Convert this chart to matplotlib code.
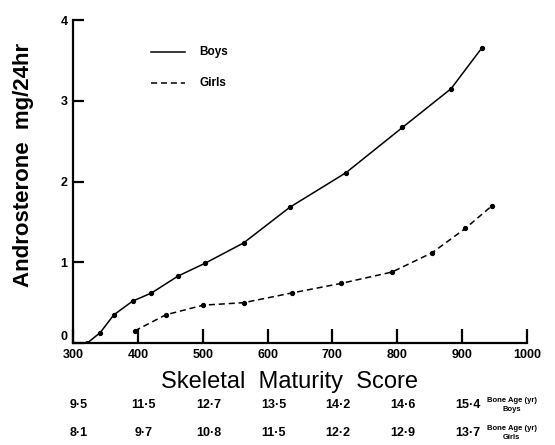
import matplotlib.pyplot as plt

plt.rcParams['font.family'] = ['Liberation Sans', 'DejaVu Sans']

# data
boys_score = [322, 342, 363, 392, 421, 462, 504, 563, 634, 721, 808, 883, 930]
boys_andro = [0.0, 0.13, 0.35, 0.52, 0.62, 0.83, 0.99, 1.24, 1.68, 2.11, 2.67, 3.15, 3.65]

girls_score = [395, 443, 501, 563, 637, 714, 792, 854, 905, 946]
girls_andro = [0.15, 0.35, 0.47, 0.50, 0.62, 0.74, 0.88, 1.12, 1.42, 1.70]

x_ticks = [300, 400, 500, 600, 700, 800, 900, 1000]
y_ticks = [0, 1, 2, 3, 4]

age_pos = [300, 400, 500, 600, 700, 800, 900]
boys_age = ['9·5', '11·5', '12·7', '13·5', '14·2', '14·6', '15·4']
girls_age = ['8·1', '9·7', '10·8', '11·5', '12·2', '12·9', '13·7']


fig = plt.figure(figsize=(5.55, 4.45), dpi=100)
ax = fig.add_axes([0.1315, 0.229, 0.818, 0.726])

ax.plot(boys_score, boys_andro, color='black', lw=1.1, marker='o', ms=2.8)
ax.plot(girls_score, girls_andro, color='black', lw=1.1, ls=(0, (4, 2.5)),
        marker='o', ms=2.8)

ax.set_xlim(300, 1000)
ax.set_ylim(0, 4)

## axis frame: only left and bottom, ticks pointing inwards
for s in ['top', 'right']:
  ax.spines[s].set_visible(False)
for s in ['left', 'bottom']:
  ax.spines[s].set_linewidth(1.6)

ax.set_xticks(x_ticks)
ax.set_yticks(y_ticks)
ax.tick_params(axis='x', direction='in', length=10, width=1.6, pad=4)
ax.tick_params(axis='y', direction='in', length=8, width=1.6, pad=4)
for lab in ax.get_xticklabels() + ax.get_yticklabels():
  lab.set_fontweight('bold')
  lab.set_fontsize(9)
# lift the "0" a touch so it clears the "300" below it
ax.get_yticklabels()[0].set_verticalalignment('bottom')

ax.set_ylabel('Androsterone  mg/24hr', fontsize=16, fontweight='bold')
ax.yaxis.set_label_coords(-0.085, 0.55)
ax.set_xlabel('Skeletal  Maturity  Score', fontsize=17)
ax.xaxis.set_label_coords(0.477, -0.087)

## legend drawn by hand
ax.plot([421, 472], [3.6, 3.6], color='black', lw=1.1)
ax.text(495, 3.6, 'Boys', fontsize=8.5, fontweight='bold', va='center')
ax.plot([421, 472], [3.22, 3.22], color='black', lw=1.1, ls=(0, (4, 2.5)))
ax.text(495, 3.22, 'Girls', fontsize=8.5, fontweight='bold', va='center')

## bone age rows beneath the axis
trans = ax.get_xaxis_transform()
for x, b, g in zip(age_pos, boys_age, girls_age):
  ax.text(x + 9, -0.192, b, transform=trans, ha='center', va='center',
          fontsize=9, fontweight='bold')
  ax.text(x + 9, -0.279, g, transform=trans, ha='center', va='center',
          fontsize=9, fontweight='bold')
ax.text(938, -0.192, 'Bone Age (yr)\nBoys', transform=trans, ha='left',
        va='center', fontsize=5.5, fontweight='bold', linespacing=1.4,
        multialignment='center')
ax.text(938, -0.279, 'Bone Age (yr)\nGirls', transform=trans, ha='left',
        va='center', fontsize=5.5, fontweight='bold', linespacing=1.4,
        multialignment='center')

fig.savefig('out.png', dpi=100)
